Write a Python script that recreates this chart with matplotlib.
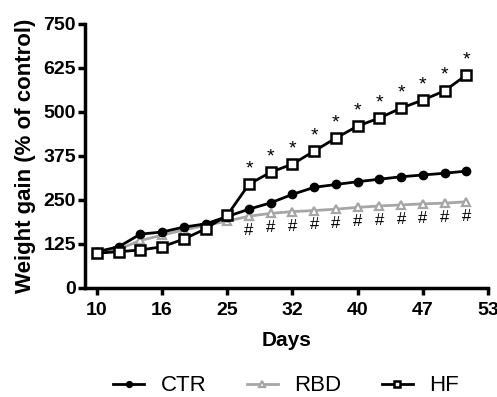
import matplotlib
matplotlib.use("Agg")
import matplotlib.pyplot as plt

plt.rcParams["font.family"] = ["Liberation Sans", "DejaVu Sans"]

# 18 measurements, evenly spaced; tick labels show the day
ctr = [103, 117, 153, 159, 173, 182, 203, 224, 242, 266, 286, 294, 302, 309, 316, 321, 326, 332]
rbd = [96, 110, 135, 150, 165, 178, 190, 204, 212, 217, 220, 224, 229, 233, 236, 239, 241, 245]
hf = [99, 103, 108, 117, 139, 168, 207, 295, 329, 352, 389, 426, 460, 483, 511, 534, 560, 605]
day_labels = ["10", "16", "25", "32", "40", "47", "53"]
sig_from = 7  # first point with * / # marks

x = list(range(len(ctr)))

fig = plt.figure(figsize=(4.97, 3.97), dpi=100)
ax = fig.add_axes([0.171, 0.2746, 0.811, 0.665])

ax.plot(x, rbd, color="#a6a6a6", lw=2, marker="^", ms=6, mfc="white", mec="#a6a6a6", mew=1.6, label="RBD", zorder=2)
ax.plot(x, ctr, color="black", lw=2, marker="o", ms=6, label="CTR", zorder=3)
ax.plot(x, hf, color="black", lw=2, marker="s", ms=6.5, mfc="white", mew=1.8, label="HF", zorder=4)

for i in x[sig_from:]:
    ax.annotate("*", (i, hf[i]), xytext=(0, 5), textcoords="offset points",
                ha="center", va="bottom", fontsize=14)
    ax.annotate("#", (i, rbd[i]), xytext=(0, -5), textcoords="offset points",
                ha="center", va="top", fontsize=12)

ax.set_xlim(-0.55, 18)
ax.set_ylim(0, 750)
ax.set_xticks(range(0, 19, 3))
ax.set_xticklabels(day_labels)
ax.set_yticks([0, 125, 250, 375, 500, 625, 750])

for s in ["top", "right"]:
    ax.spines[s].set_visible(False)
for s in ["left", "bottom"]:
    ax.spines[s].set_linewidth(2.5)
ax.tick_params(width=2.5, length=5, labelsize=14)
ax.tick_params(axis="x", pad=5)
ax.tick_params(axis="y", pad=1.5)
for lab in ax.get_xticklabels() + ax.get_yticklabels():
    lab.set_fontweight("bold")

ax.set_xlabel("Days", fontsize=15, fontweight="bold", labelpad=9)
ax.set_ylabel("Weight gain (% of control)", fontsize=16, fontweight="bold", labelpad=5)

h, l = ax.get_legend_handles_labels()
order = [1, 0, 2]
fig.legend([h[k] for k in order], [l[k] for k in order], loc="center",
           bbox_to_anchor=(0.576, 0.028), ncol=3, frameon=False, fontsize=16,
           handlelength=1.4, columnspacing=1.8, handletextpad=0.75, markerscale=0.7)

fig.savefig("out.png", dpi=100)
